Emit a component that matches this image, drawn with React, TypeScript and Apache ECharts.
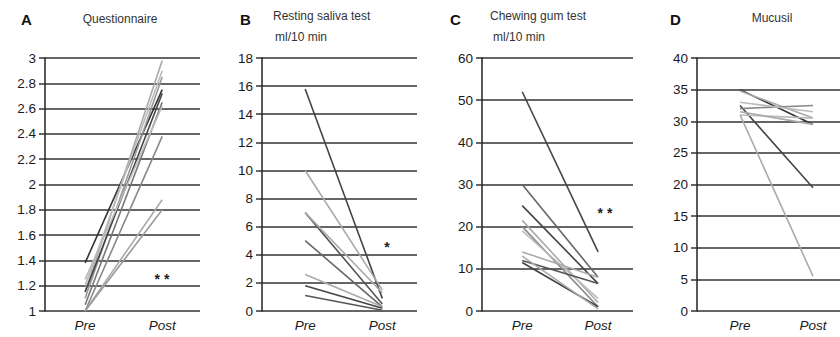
import React, { useEffect, useRef } from "react";
import * as echarts from "echarts";

const xLabels = ["Pre", "Post"];

// Panel A: Questionnaire
const preA = [1.38, 1.15, 1.2, 1.1, 1.15, 1.05, 1.0, 1.0, 1.0, 1.25];
const postA = [2.75, 2.98, 2.9, 2.85, 2.72, 2.65, 2.38, 1.88, 1.8, 2.62];
const colorsA = ["#333", "#aaa", "#bbb", "#999", "#444", "#777", "#888", "#aaa", "#999", "#bbb"];

// Panel B: Resting saliva test ml/10 min
const preB = [15.8, 10, 7, 7, 5, 2.6, 1.8, 1.1];
const postB = [0.9, 1.5, 0.5, 1.3, 0.3, 0.3, 0.2, 0.05];
const colorsB = ["#444", "#aaa", "#555", "#aaa", "#666", "#aaa", "#444", "#555"];

// Panel C: Chewing gum test ml/10 min
const preC = [52, 30, 25, 21.5, 20, 19, 14, 12, 11.5, 13];
const postC = [14, 8, 6.5, 2, 1, 3, 8, 6.5, 1, 0.5];
const colorsC = ["#444", "#666", "#444", "#aaa", "#888", "#bbb", "#aaa", "#555", "#444", "#aaa"];

// Panel D: Mucusil
const preD = [35, 34.8, 32.5, 32, 31, 31.5, 31, 33];
const postD = [29.5, 30.5, 19.5, 32.5, 30.5, 29.5, 5.5, 31.5];
const colorsD = ["#333", "#aaa", "#444", "#888", "#bbb", "#aaa", "#aaa", "#bbb"];

const yTicksA = { min: 1, max: 3, interval: 0.2 };
const yTicksB = { min: 0, max: 18, interval: 2 };
const yTicksC = { min: 0, max: 60, interval: 10 };
const yTicksD = { min: 0, max: 40, interval: 5 };

const panels = [
  { pre: preA, post: postA, colors: colorsA, y: yTicksA, left: 45, width: 155, xmin: -0.52, xmax: 1.49 },
  { pre: preB, post: postB, colors: colorsB, y: yTicksB, left: 262, width: 155, xmin: -0.56, xmax: 1.45 },
  { pre: preC, post: postC, colors: colorsC, y: yTicksC, left: 482, width: 151, xmin: -0.53, xmax: 1.46 },
  { pre: preD, post: postD, colors: colorsD, y: yTicksD, left: 697, width: 143, xmin: -0.59, xmax: 1.37 },
];

const FONT = "Liberation Sans, Arial, sans-serif";

export default function App() {
  const ref = useRef<HTMLDivElement>(null);
  useEffect(() => {
    document.body.style.margin = "0";
    if (!ref.current) return;
    const chart = echarts.init(ref.current, null, { renderer: "svg" });
    const grids: any[] = [];
    const xAxes: any[] = [];
    const yAxes: any[] = [];
    const series: any[] = [];
    panels.forEach((p, gi) => {
      grids.push({ left: p.left, width: p.width, top: 58, height: 253 });
      xAxes.push({
        type: "value",
        gridIndex: gi,
        min: p.xmin,
        max: p.xmax,
        axisLine: { show: false, onZero: false },
        axisTick: { show: false },
        splitLine: { show: false },
        axisLabel: {
          customValues: [0, 1],
          formatter: (v: number) => xLabels[Math.round(v)],
          fontSize: 13.5,
          fontStyle: "italic",
          color: "#1a1a1a",
          fontFamily: FONT,
          margin: 7,
        },
      });
      yAxes.push({
        type: "value",
        gridIndex: gi,
        min: p.y.min,
        max: p.y.max,
        interval: p.y.interval,
        position: "left",
        axisLine: { show: true, onZero: false, lineStyle: { color: "#222", width: 1.5 } },
        axisTick: { show: true, length: 6, lineStyle: { color: "#333", width: 1.5 } },
        splitLine: { show: true, lineStyle: { color: "#333", width: 1.5 } },
        axisLabel: {
          fontSize: 13.5,
          color: "#1a1a1a",
          fontFamily: FONT,
          margin: 9,
          formatter: (v: number) => String(Math.round(v * 10) / 10),
        },
      });
      p.pre.forEach((v, i) => {
        series.push({
          type: "line",
          xAxisIndex: gi,
          yAxisIndex: gi,
          data: [
            [0, v],
            [1, p.post[i]],
          ],
          symbol: "none",
          lineStyle: { color: p.colors[i], width: 1.6 },
          z: 3,
        });
      });
    });

    const txt = (x: number, y: number, text: string, style: any = {}) => ({
      type: "text",
      x,
      y,
      style: {
        text,
        fontFamily: FONT,
        fontSize: 12,
        fill: "#333",
        textVerticalAlign: "middle",
        ...style,
      },
    });

    chart.setOption({
      animation: false,
      backgroundColor: "#fff",
      grid: grids,
      xAxis: xAxes,
      yAxis: yAxes,
      series,
      graphic: [
        txt(21, 19, "A", { fontSize: 15, fontWeight: "bold", fill: "#111" }),
        txt(120, 19, "Questionnaire", { textAlign: "center" }),
        txt(240, 19, "B", { fontSize: 15, fontWeight: "bold", fill: "#111" }),
        txt(273, 16, "Resting saliva test"),
        txt(275, 37, "ml/10 min"),
        txt(450, 19, "C", { fontSize: 15, fontWeight: "bold", fill: "#111" }),
        txt(490, 16, "Chewing gum test"),
        txt(493, 37, "ml/10 min"),
        txt(670, 19, "D", { fontSize: 15, fontWeight: "bold", fill: "#111" }),
        txt(772, 18, "Mucusil", { textAlign: "center" }),
        txt(162, 279, "* *", { textAlign: "center", fontSize: 14, fontWeight: "bold", fill: "#222" }),
        txt(387, 247, "*", { textAlign: "center", fontSize: 14, fontWeight: "bold", fill: "#222" }),
        txt(605, 213, "* *", { textAlign: "center", fontSize: 14, fontWeight: "bold", fill: "#222" }),
      ],
    });
    return () => chart.dispose();
  }, []);
  return <div ref={ref} style={{ width: 840, height: 337 }} />;
}
